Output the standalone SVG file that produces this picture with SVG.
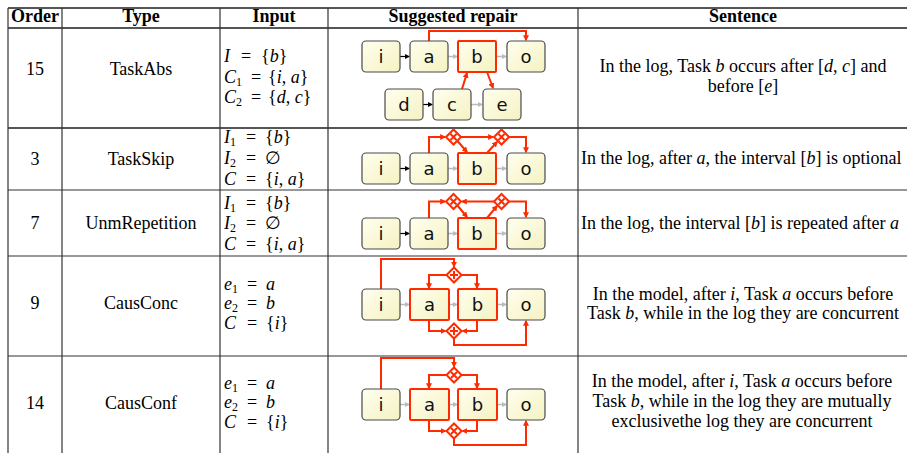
<svg xmlns="http://www.w3.org/2000/svg" width="907" height="453" viewBox="0 0 907 453">
<style>
.hd{font:bold 18px "Liberation Serif",serif;text-anchor:middle;fill:#000}
.tx{font:18px "Liberation Serif",serif;fill:#000}
.c{text-anchor:middle}
.it{font-style:italic}
.sub{font-size:12px}
.grid line{stroke:#333;stroke-width:1.2}
.grid line.thick{stroke:#555;stroke-width:1.8}
.node rect{fill:url(#ng);stroke:#4a4a4a;stroke-width:1.2}
.node.hl rect{stroke:#ff2a00;stroke-width:2}
.node text{font:18px "DejaVu Sans",sans-serif;text-anchor:middle;fill:#111}
.k{stroke:#000;stroke-width:1.2;fill:none;marker-end:url(#mk)}
.g{stroke:#bbb;stroke-width:1.5;fill:none;marker-end:url(#mg)}
.r{stroke:#ff2a00;stroke-width:2;fill:none;marker-end:url(#mr)}
</style>
<defs>
<linearGradient id="ng" x1="0" y1="0" x2="1" y2="1">
<stop offset="0" stop-color="#ffffef"/>
<stop offset="1" stop-color="#f5f2c2"/>
</linearGradient>
<marker id="mr" viewBox="0 0 10 10" refX="8" refY="5" markerWidth="6" markerHeight="6" markerUnits="userSpaceOnUse" orient="auto"><path d="M0,0 L10,5 L0,10 z" fill="#ff2a00"/></marker>
<marker id="mk" viewBox="0 0 10 10" refX="8" refY="5" markerWidth="5" markerHeight="5" markerUnits="userSpaceOnUse" orient="auto"><path d="M0,0 L10,5 L0,10 z" fill="#000"/></marker>
<marker id="mg" viewBox="0 0 10 10" refX="8" refY="5" markerWidth="5" markerHeight="5" markerUnits="userSpaceOnUse" orient="auto"><path d="M0,0 L10,5 L0,10 z" fill="#bbb"/></marker>
<g id="gx"><path d="M0,-7.5 L7.5,0 L0,7.5 L-7.5,0 z" fill="#fff" stroke="#ff2a00" stroke-width="2"/><path d="M-3,-3 L3,3 M3,-3 L-3,3" stroke="#ff2a00" stroke-width="2" fill="none"/></g>
<g id="gp"><path d="M0,-7.5 L7.5,0 L0,7.5 L-7.5,0 z" fill="#fff" stroke="#ff2a00" stroke-width="2"/><path d="M0,-4 V4 M-4,0 H4" stroke="#ff2a00" stroke-width="2" fill="none"/></g>
</defs>

<g id="table" class="grid">
<line class="thick" x1="8" y1="8" x2="907" y2="8"/>
<line class="thick" x1="8" y1="28" x2="907" y2="28"/>
<line class="thick" x1="8" y1="128" x2="907" y2="128"/>
<line x1="8" y1="190" x2="907" y2="190"/>
<line x1="8" y1="256" x2="907" y2="256"/>
<line x1="8" y1="356" x2="907" y2="356"/>
<line x1="8" y1="8" x2="8" y2="453"/>
<line x1="62" y1="8" x2="62" y2="453"/>
<line x1="220" y1="8" x2="220" y2="453"/>
<line x1="328" y1="8" x2="328" y2="453"/>
<line x1="578" y1="8" x2="578" y2="453"/>
</g>

<g id="header">
<text class="hd" x="35" y="22">Order</text>
<text class="hd" x="141" y="22">Type</text>
<text class="hd" x="274" y="22">Input</text>
<text class="hd" x="453" y="22">Suggested repair</text>
<text class="hd" x="743" y="22">Sentence</text>
</g>

<g id="row1-text">
<text class="tx c" x="35" y="75">15</text>
<text class="tx c" x="141" y="75">TaskAbs</text>
<text class="tx" y="62"><tspan x="224" class="it">I</tspan><tspan x="241">=</tspan><tspan x="261">{</tspan><tspan class="it">b</tspan>}</text>
<text class="tx" y="83"><tspan x="224" class="it">C</tspan><tspan class="sub" dy="3">1</tspan><tspan x="251" dy="-3">=</tspan><tspan x="268">{</tspan><tspan class="it">i</tspan>, <tspan class="it">a</tspan>}</text>
<text class="tx" y="103"><tspan x="224" class="it">C</tspan><tspan class="sub" dy="3">2</tspan><tspan x="251" dy="-3">=</tspan><tspan x="268">{</tspan><tspan class="it">d</tspan>, <tspan class="it">c</tspan>}</text>
<text class="tx c" x="743" y="72">In the log, Task <tspan class="it">b</tspan> occurs after [<tspan class="it">d</tspan>, <tspan class="it">c</tspan>] and</text>
<text class="tx c" x="743" y="92">before [<tspan class="it">e</tspan>]</text>
</g>

<g id="row2-text">
<text class="tx c" x="35" y="165">3</text>
<text class="tx c" x="141" y="165">TaskSkip</text>
<text class="tx" y="143"><tspan x="224" class="it">I</tspan><tspan class="sub" dy="3">1</tspan><tspan x="246" dy="-3">=</tspan><tspan x="265">{</tspan><tspan class="it">b</tspan>}</text>
<text class="tx" y="164"><tspan x="224" class="it">I</tspan><tspan class="sub" dy="3">2</tspan><tspan x="246" dy="-3">=</tspan><tspan x="265">∅</tspan></text>
<text class="tx" y="185"><tspan x="224" class="it">C</tspan><tspan x="246">=</tspan><tspan x="265">{</tspan><tspan class="it">i</tspan>, <tspan class="it">a</tspan>}</text>
<text class="tx" x="581" y="164">In the log, after <tspan class="it">a</tspan>, the interval [<tspan class="it">b</tspan>] is optional</text>
</g>

<g id="row3-text">
<text class="tx c" x="35" y="229">7</text>
<text class="tx c" x="141" y="229">UnmRepetition</text>
<text class="tx" y="209"><tspan x="224" class="it">I</tspan><tspan class="sub" dy="3">1</tspan><tspan x="246" dy="-3">=</tspan><tspan x="265">{</tspan><tspan class="it">b</tspan>}</text>
<text class="tx" y="229"><tspan x="224" class="it">I</tspan><tspan class="sub" dy="3">2</tspan><tspan x="246" dy="-3">=</tspan><tspan x="265">∅</tspan></text>
<text class="tx" y="250"><tspan x="224" class="it">C</tspan><tspan x="246">=</tspan><tspan x="265">{</tspan><tspan class="it">i</tspan>, <tspan class="it">a</tspan>}</text>
<text class="tx" x="581" y="229">In the log, the interval [<tspan class="it">b</tspan>] is repeated after <tspan class="it">a</tspan></text>
</g>

<g id="row4-text">
<text class="tx c" x="35" y="309">9</text>
<text class="tx c" x="141" y="309">CausConc</text>
<text class="tx" y="290"><tspan x="224" class="it">e</tspan><tspan class="sub" dy="3">1</tspan><tspan x="247" dy="-3">=</tspan><tspan x="266" class="it">a</tspan></text>
<text class="tx" y="309"><tspan x="224" class="it">e</tspan><tspan class="sub" dy="3">2</tspan><tspan x="247" dy="-3">=</tspan><tspan x="266" class="it">b</tspan></text>
<text class="tx" y="329"><tspan x="224" class="it">C</tspan><tspan x="247">=</tspan><tspan x="266">{</tspan><tspan class="it">i</tspan>}</text>
<text class="tx c" x="743" y="300">In the model, after <tspan class="it">i</tspan>, Task <tspan class="it">a</tspan> occurs before</text>
<text class="tx c" x="743" y="319">Task <tspan class="it">b</tspan>, while in the log they are concurrent</text>
</g>

<g id="row5-text">
<text class="tx c" x="35" y="409">14</text>
<text class="tx c" x="141" y="409">CausConf</text>
<text class="tx" y="389"><tspan x="224" class="it">e</tspan><tspan class="sub" dy="3">1</tspan><tspan x="247" dy="-3">=</tspan><tspan x="266" class="it">a</tspan></text>
<text class="tx" y="408"><tspan x="224" class="it">e</tspan><tspan class="sub" dy="3">2</tspan><tspan x="247" dy="-3">=</tspan><tspan x="266" class="it">b</tspan></text>
<text class="tx" y="428"><tspan x="224" class="it">C</tspan><tspan x="247">=</tspan><tspan x="266">{</tspan><tspan class="it">i</tspan>}</text>
<text class="tx c" x="742" y="387">In the model, after <tspan class="it">i</tspan>, Task <tspan class="it">a</tspan> occurs before</text>
<text class="tx c" x="742" y="407">Task <tspan class="it">b</tspan>, while in the log they are mutually</text>
<text class="tx c" x="742" y="427">exclusivethe log they are concurrent</text>
</g>

<g id="connectors">
<path class="k" d="M400,56.5 H409"/>
<path class="g" d="M448,56.5 H457"/>
<path class="g" d="M496,56.5 H506"/>
<path class="k" d="M423,104.5 H432"/>
<path class="g" d="M471,104.5 H482"/>
<path class="r" d="M429,41 V31 H526 V40"/>
<path class="r" d="M462,89 L467,73"/>
<path class="r" d="M487,72 L493,88"/>

<path class="k" d="M400,168.5 H409"/>
<path class="g" d="M448,168.5 H457"/>
<path class="g" d="M496,168.5 H506"/>
<path class="r" d="M429,153 V137 H445"/>
<path class="r" d="M461,137 H493"/>
<path class="r" d="M457.5,141 L467,152"/>
<path class="r" d="M487,153 L497,142"/>
<path class="r" d="M509,137 H526 V152"/>

<path class="k" d="M400,233.5 H409"/>
<path class="g" d="M448,233.5 H457"/>
<path class="g" d="M496,233.5 H506"/>
<path class="r" d="M429,218 V201.5 H445"/>
<path class="r" d="M457.5,205.5 L467,217"/>
<path class="r" d="M487,218 L497,206"/>
<path class="r" d="M494,201.5 H462"/>
<path class="r" d="M509,201.5 H526 V217"/>

<path class="g" d="M400,304.5 H409"/>
<path class="g" d="M449,304.5 H457"/>
<path class="g" d="M497,304.5 H506"/>
<path class="r" d="M381,289 V259 H454 V266.5"/>
<path class="r" d="M446.5,275 H429 V288"/>
<path class="r" d="M461.5,275 H477 V288"/>
<path class="r" d="M429,320 V331 H445.5"/>
<path class="r" d="M477,320 V331 H462.5"/>
<path class="r" d="M454,338.5 V345 H526 V321"/>

<path class="g" d="M400,404.5 H409"/>
<path class="g" d="M449,404.5 H457"/>
<path class="g" d="M497,404.5 H506"/>
<path class="r" d="M381,389 V358 H454 V366.5"/>
<path class="r" d="M446.5,375 H429 V388"/>
<path class="r" d="M461.5,375 H477 V388"/>
<path class="r" d="M429,420 V431 H445.5"/>
<path class="r" d="M477,420 V431 H462.5"/>
<path class="r" d="M454,438.5 V445 H526 V421"/>
</g>

<g id="r1-i" class="node"><rect x="362" y="41" width="38" height="31" rx="4"/><text x="381" y="63">i</text></g>
<g id="r1-a" class="node"><rect x="410" y="41" width="38" height="31" rx="4"/><text x="429" y="63">a</text></g>
<g id="r1-b" class="node hl"><rect x="458" y="41" width="38" height="31" rx="1"/><text x="477" y="63">b</text></g>
<g id="r1-o" class="node"><rect x="507" y="41" width="38" height="31" rx="4"/><text x="526" y="63">o</text></g>
<g id="r1-d" class="node"><rect x="385" y="89" width="38" height="31" rx="4"/><text x="404" y="111">d</text></g>
<g id="r1-c" class="node"><rect x="433" y="89" width="38" height="31" rx="4"/><text x="452" y="111">c</text></g>
<g id="r1-e" class="node"><rect x="483" y="89" width="38" height="31" rx="4"/><text x="502" y="111">e</text></g>

<g id="r2-i" class="node"><rect x="362" y="153" width="38" height="31" rx="4"/><text x="381" y="175">i</text></g>
<g id="r2-a" class="node"><rect x="410" y="153" width="38" height="31" rx="4"/><text x="429" y="175">a</text></g>
<g id="r2-b" class="node hl"><rect x="458" y="153" width="38" height="31" rx="1"/><text x="477" y="175">b</text></g>
<g id="r2-o" class="node"><rect x="507" y="153" width="38" height="31" rx="4"/><text x="526" y="175">o</text></g>
<g id="r2-g1"><use href="#gx" x="453.5" y="137"/></g>
<g id="r2-g2"><use href="#gx" x="501.5" y="137"/></g>

<g id="r3-i" class="node"><rect x="362" y="218" width="38" height="31" rx="4"/><text x="381" y="240">i</text></g>
<g id="r3-a" class="node"><rect x="410" y="218" width="38" height="31" rx="4"/><text x="429" y="240">a</text></g>
<g id="r3-b" class="node hl"><rect x="458" y="218" width="38" height="31" rx="1"/><text x="477" y="240">b</text></g>
<g id="r3-o" class="node"><rect x="507" y="218" width="38" height="31" rx="4"/><text x="526" y="240">o</text></g>
<g id="r3-g1"><use href="#gx" x="453.5" y="201.5"/></g>
<g id="r3-g2"><use href="#gx" x="501.5" y="201.5"/></g>

<g id="r4-i" class="node"><rect x="362" y="289" width="38" height="31" rx="4"/><text x="381" y="311">i</text></g>
<g id="r4-a" class="node hl"><rect x="410" y="289" width="39" height="31" rx="1"/><text x="429.5" y="311">a</text></g>
<g id="r4-b" class="node hl"><rect x="458" y="289" width="39" height="31" rx="1"/><text x="477.5" y="311">b</text></g>
<g id="r4-o" class="node"><rect x="507" y="289" width="38" height="31" rx="4"/><text x="526" y="311">o</text></g>
<g id="r4-g1"><use href="#gp" x="454" y="275"/></g>
<g id="r4-g2"><use href="#gp" x="454" y="331"/></g>

<g id="r5-i" class="node"><rect x="362" y="389" width="38" height="31" rx="4"/><text x="381" y="411">i</text></g>
<g id="r5-a" class="node hl"><rect x="410" y="389" width="39" height="31" rx="1"/><text x="429.5" y="411">a</text></g>
<g id="r5-b" class="node hl"><rect x="458" y="389" width="39" height="31" rx="1"/><text x="477.5" y="411">b</text></g>
<g id="r5-o" class="node"><rect x="507" y="389" width="38" height="31" rx="4"/><text x="526" y="411">o</text></g>
<g id="r5-g1"><use href="#gx" x="454" y="375"/></g>
<g id="r5-g2"><use href="#gx" x="454" y="431"/></g>
</svg>
